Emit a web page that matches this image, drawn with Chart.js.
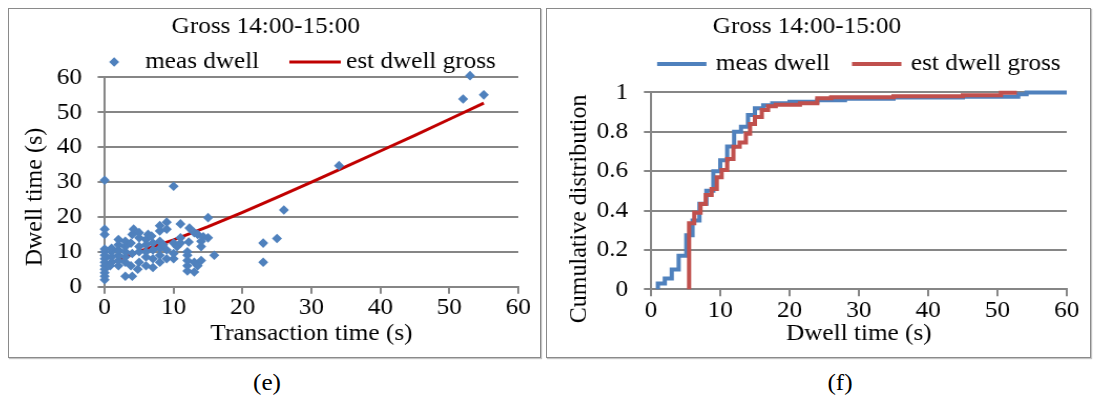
<!DOCTYPE html>
<html>
<head>
<meta charset="utf-8">
<script src="https://cdn.jsdelivr.net/npm/chart.js@4.4.0/dist/chart.umd.min.js"></script>
<style>
  body { margin: 0; background: #fff; width: 1094px; height: 410px; position: relative; overflow: hidden; font-family: "Liberation Serif", "Times New Roman", serif; }
  .panel { position: absolute; top: 8px; height: 348px; border: 1px solid #8a8a8a; box-shadow: 1px 1px 1px #c4c4c4; overflow: hidden; background: #fff; }
  /* the figures' text runs a little wide, so each chart is rendered narrower and stretched */
  .stretch { position: absolute; left: 0; top: 0; height: 348px; transform: scaleX(1.05); transform-origin: 0 0; }
  .caption { position: absolute; top: 369px; font-size: 24px; transform: translateX(-50%) scaleX(1.05); white-space: nowrap; }
</style>
</head>
<body>
<div class="panel" style="left:8px; width:531px;">
  <div class="stretch" style="width:506px;"><canvas id="scatterChart"></canvas></div>
</div>
<div class="panel" style="left:546px; width:543px;">
  <div class="stretch" style="width:517px;"><canvas id="cdfChart"></canvas></div>
</div>
<div class="caption" style="left:267px;">(e)</div>
<div class="caption" style="left:840px;">(f)</div>

<script>
// (e) transaction time vs measured dwell, 14:00-15:00
const transTime = [
  0, 0, 0, 0, 0, 0, 0, 0, 0, 0, 0, 0, 0,
  1, 1, 1, 1, 0.8,
  2, 2, 2, 2, 2, 2,
  3, 3, 3, 3, 3, 3,
  4, 3.8, 4, 3.8, 4, 4.2,
  5, 5, 5, 5, 5, 4.8,
  6, 6, 6, 6, 6, 6.3,
  7, 7, 7, 7, 6.8,
  8, 8, 8, 8, 8, 8,
  9, 9, 9, 9, 8.5,
  10, 10, 10, 10, 10.5,
  11, 11, 11,
  12, 12, 12, 12, 12, 12.2, 12.3,
  13, 13, 13, 13.5, 13.5,
  14, 14, 14, 14.3,
  15, 15, 15.9,
  23, 23, 25, 26, 34, 52, 53, 55
];
const measDwell = [
  2, 3, 4, 5, 6, 7, 8, 9, 10, 10.8, 15, 16.5, 30.5,
  7, 8.5, 10, 11, 6,
  6, 7.5, 9, 10.5, 12, 13.5,
  3, 7, 8.5, 10, 11.5, 13,
  3, 6, 9.5, 12.5, 15, 16.5,
  7, 10, 11.5, 14, 15.5, 5,
  6, 8.5, 10, 12, 13.5, 15,
  5.5, 8, 10.5, 12.5, 14.5,
  7, 9, 11, 13, 16, 17.5,
  8, 10.5, 16.5, 18.5, 12,
  8, 9.5, 12.5, 28.8, 11.5,
  12.5, 14, 18,
  4.5, 6, 7.5, 9, 10, 12.8, 16.8,
  4.2, 7, 15.5, 6, 15,
  7.5, 11.5, 13, 14.3,
  14, 19.8, 9,
  7, 12.5, 13.8, 22, 34.7, 53.8, 60.5, 55
];
const estTransTime = [0.5, 2, 5, 10, 15, 20, 25, 30, 35, 40, 45, 50, 55];
const estDwellGross = [6.4, 7.7, 10.1, 13.4, 17.2, 21.3, 25.6, 30.0, 34.4, 38.9, 43.4, 48.0, 52.6];

// (f) cumulative distributions of dwell time
const cdfMeasTime = [1, 2, 3, 4, 5.1, 6, 7, 8, 9, 10, 11, 12, 13, 14, 15, 16.2, 17.5, 20, 24, 28, 35, 45, 53, 54.2, 60];
const cdfMeasProb = [0, 0.03, 0.055, 0.1, 0.17, 0.275, 0.35, 0.435, 0.5, 0.6, 0.655, 0.725, 0.8, 0.825, 0.885, 0.92, 0.935, 0.945, 0.952, 0.96, 0.968, 0.974, 0.978, 0.99, 1.0];
const cdfEstTime = [5.5, 5.5, 6.25, 7.15, 7.9, 8.75, 9.5, 10.2, 11, 11.9, 12.8, 13.7, 14.3, 15, 16, 16.9, 18, 21.5, 24, 26, 35, 45, 50.5, 52.8];
const cdfEstProb = [0, 0.284, 0.335, 0.389, 0.433, 0.479, 0.51, 0.569, 0.606, 0.662, 0.724, 0.745, 0.79, 0.84, 0.875, 0.91, 0.93, 0.937, 0.945, 0.97, 0.975, 0.98, 0.985, 0.998];

const axisTicks = [0, 10, 20, 30, 40, 50, 60];
const probTicks = [0, 0.2, 0.4, 0.6, 0.8, 1];

const BLUE = '#4F81BD';
const GRID = '#868686';
const FONT = { family: "'Liberation Serif', 'Times New Roman', serif", size: 24, weight: 'normal', lineHeight: 1.2 };

Chart.defaults.font.family = FONT.family;
Chart.defaults.font.size = FONT.size;
Chart.defaults.color = '#000';

const toPoints = (xs, ys) => xs.map((x, i) => ({ x: x, y: ys[i] }));

// draws the key row under the title: a diamond for marker series, a short stroke for lines
const legendRow = {
    id: 'legendRow',
    afterDraw(chart, args, opts) {
        const { ctx, chartArea } = chart;
        const sets = chart.data.datasets;
        ctx.save();
        ctx.font = FONT.size + 'px ' + FONT.family;
        ctx.textBaseline = 'middle';
        ctx.fillStyle = '#000';
        const widths = sets.map(ds => opts.keyWidth + opts.keyGap + ctx.measureText(ds.label).width);
        const total = widths.reduce((a, b) => a + b, 0) + opts.itemGap * (sets.length - 1);
        let x = (chartArea.left + chartArea.right) / 2 - total / 2 + opts.shift;
        const y = opts.y;
        sets.forEach((ds, i) => {
            const cx = x + opts.keyWidth / 2;
            if (ds.showLine) {
                ctx.strokeStyle = ds.borderColor;
                ctx.lineWidth = ds.borderWidth;
                ctx.beginPath();
                ctx.moveTo(x, y);
                ctx.lineTo(x + opts.keyWidth, y);
                ctx.stroke();
            } else {
                const r = ds.pointRadius;
                ctx.fillStyle = ds.backgroundColor;
                ctx.beginPath();
                ctx.moveTo(cx - r, y);
                ctx.lineTo(cx, y - r);
                ctx.lineTo(cx + r, y);
                ctx.lineTo(cx, y + r);
                ctx.closePath();
                ctx.fill();
                ctx.fillStyle = '#000';
            }
            ctx.fillText(ds.label, x + opts.keyWidth + opts.keyGap, y);
            x += widths[i] + opts.itemGap;
        });
        ctx.restore();
    }
};

function valueAxis(ticks, extra) {
    return Object.assign({
        type: 'linear',
        min: ticks[0],
        max: ticks[ticks.length - 1],
        afterBuildTicks: scale => { scale.ticks = ticks.map(v => ({ value: v })); },
        border: { display: true, color: GRID, width: 2 },
        ticks: { color: '#000', font: FONT, maxRotation: 0, autoSkip: false, callback: v => String(v) }
    }, extra);
}

function xAxis(ticks, titleText, height) {
    const axis = valueAxis(ticks, {
        grid: { drawOnChartArea: false, drawTicks: true, tickLength: 7, color: GRID, lineWidth: 2 },
        title: { display: true, text: titleText, color: '#000', font: FONT, padding: { top: 0, bottom: 1 } },
        afterFit: scale => { scale.height = height; }
    });
    axis.ticks.padding = 0;
    return axis;
}

function yAxis(ticks, titleText, width, titlePad) {
    const axis = valueAxis(ticks, {
        grid: { drawOnChartArea: true, drawTicks: true, tickLength: 6.7, color: GRID, lineWidth: 2 },
        title: { display: true, text: titleText, color: '#000', font: FONT, padding: { top: titlePad, bottom: 0 } },
        afterFit: scale => { scale.width = width; }
    });
    axis.ticks.padding = 15;
    return axis;
}

new Chart(document.getElementById('scatterChart'), {
    type: 'scatter',
    data: {
        datasets: [{
            label: 'meas dwell',
            data: toPoints(transTime, measDwell),
            pointStyle: 'rectRot',
            pointRadius: 4.8,
            pointBorderWidth: 0,
            backgroundColor: BLUE,
            borderColor: BLUE,
            clip: false
        }, {
            label: 'est dwell gross',
            data: toPoints(estTransTime, estDwellGross),
            showLine: true,
            pointRadius: 0,
            borderColor: '#C00000',
            borderWidth: 3,
            clip: false
        }]
    },
    options: {
        responsive: true,
        maintainAspectRatio: false,
        animation: false,
        layout: { padding: { left: 4, right: 21, top: 0, bottom: 8 } },
        plugins: {
            title: { display: true, text: 'Gross 14:00-15:00', color: '#000', font: FONT, padding: { top: 3.6, bottom: 36 } },
            legend: { display: false },
            tooltip: { enabled: false },
            legendRow: { y: 53, keyWidth: 49, keyGap: 5, itemGap: 28.7, shift: -18.4 }
        },
        scales: {
            x: xAxis(axisTicks, 'Transaction time (s)', 62.3),
            y: yAxis(axisTicks, 'Dwell time (s)     ', 87.1, 6.4)
        }
    },
    plugins: [legendRow]
});

new Chart(document.getElementById('cdfChart'), {
    type: 'scatter',
    data: {
        datasets: [{
            label: 'meas dwell',
            data: toPoints(cdfMeasTime, cdfMeasProb),
            showLine: true,
            stepped: 'after',
            pointRadius: 0,
            borderColor: BLUE,
            borderWidth: 4,
            order: 2,
            clip: false
        }, {
            label: 'est dwell gross',
            data: toPoints(cdfEstTime, cdfEstProb),
            showLine: true,
            stepped: 'after',
            pointRadius: 0,
            borderColor: '#C0504D',
            borderWidth: 4,
            order: 1,
            clip: false
        }]
    },
    options: {
        responsive: true,
        maintainAspectRatio: false,
        animation: false,
        layout: { padding: { left: 0, right: 22, top: 0, bottom: 8 } },
        plugins: {
            title: { display: true, text: 'Gross 14:00-15:00', color: '#000', font: FONT, padding: { top: 3.6, bottom: 51 } },
            legend: { display: false },
            tooltip: { enabled: false },
            legendRow: { y: 55, keyWidth: 47, keyGap: 9, itemGap: 21, shift: 0 }
        },
        scales: {
            x: xAxis(axisTicks, 'Dwell time (s)', 59.7),
            y: yAxis(probTicks, 'Cumulative distribution      ', 99, 16.1)
        }
    },
    plugins: [legendRow]
});
</script>
</body>
</html>
